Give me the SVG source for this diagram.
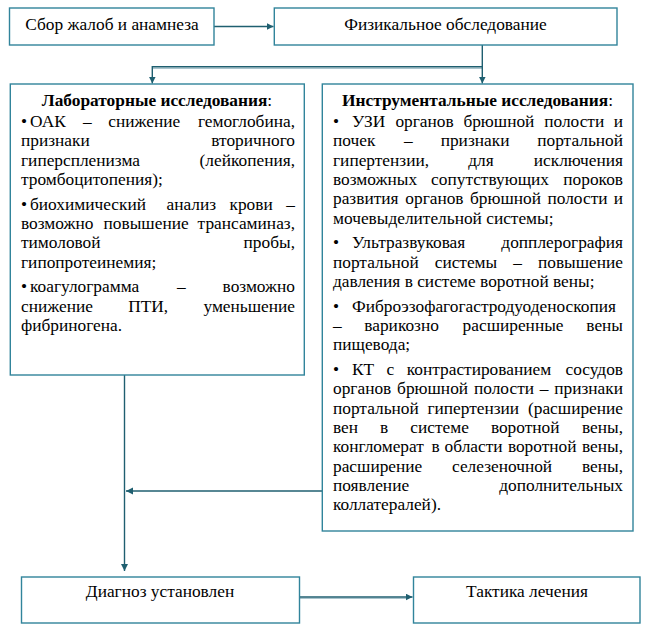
<svg xmlns="http://www.w3.org/2000/svg" width="646" height="635" viewBox="0 0 646 635">
<style>
.box{fill:#fff;stroke:#31849B;stroke-width:1.4}
text{font-family:"Liberation Serif","Times New Roman",serif;font-size:17.33px;fill:#000}
.c{text-anchor:middle}
.b{font-weight:bold}
.e{text-anchor:end}
.con{fill:none;stroke:#1F5F70;stroke-width:1.4}
.lt{fill:none;stroke:#A9C4CD;stroke-width:1.2}
</style>
<defs>
<marker id="ah" markerWidth="8" markerHeight="8" refX="7" refY="3.5" orient="auto" markerUnits="userSpaceOnUse">
<path d="M0,0 L7,3.5 L0,7 z" fill="#1F5F70"/>
</marker>
</defs>
<rect width="646" height="635" fill="#fff"/>
<g id="connectors">
<line class="con" x1="214" y1="26.5" x2="273.5" y2="26.5" marker-end="url(#ah)"/>
<line class="lt" x1="153" y1="68.3" x2="482" y2="68.3"/>
<path class="con" d="M482.3,45 V66.7 H152.3 V83.5" marker-end="url(#ah)"/>
<line class="con" x1="482.3" y1="66.7" x2="482.3" y2="83.5" marker-end="url(#ah)"/>
<line class="con" x1="322" y1="491" x2="126" y2="491" marker-end="url(#ah)"/>
<line class="con" x1="124.5" y1="375" x2="124.5" y2="571" marker-end="url(#ah)"/>
<line class="lt" x1="300" y1="598.3" x2="408" y2="598.3"/>
<line class="con" x1="299" y1="597" x2="412.5" y2="597" marker-end="url(#ah)"/>
</g>
<g id="n1">
<rect class="box" x="9.5" y="8" width="204.5" height="37"/>
<text class="c" x="112" y="30">Сбор жалоб и анамнеза</text>
</g>
<g id="n2">
<rect class="box" x="274.3" y="8" width="342.7" height="37"/>
<text class="c" x="445.5" y="30">Физикальное обследование</text>
</g>
<g id="n3">
<rect class="box" x="10.3" y="84" width="294" height="291"/>
<text class="c" x="157" y="106"><tspan class="b">Лабораторные исследования</tspan>:</text>
<text y="127"><tspan x="21">•</tspan><tspan x="30">ОАК</tspan><tspan x="83.1">–</tspan><tspan x="108.3">снижение</tspan><tspan x="295" class="e">гемоглобина,</tspan></text>
<text y="146.3"><tspan x="21">признаки</tspan><tspan x="295" class="e">вторичного</tspan></text>
<text y="165.6"><tspan x="21">гиперспленизма</tspan><tspan x="295" class="e">(лейкопения,</tspan></text>
<text y="184.9" x="21">тромбоцитопения);</text>
<text y="209.7"><tspan x="21">•</tspan><tspan x="30">биохимический</tspan><tspan x="166.5">анализ</tspan><tspan x="229.5">крови</tspan><tspan x="295" class="e">–</tspan></text>
<text y="229"><tspan x="21">возможно</tspan><tspan x="103.6">повышение</tspan><tspan x="295" class="e">трансаминаз,</tspan></text>
<text y="248.3"><tspan x="21">тимоловой</tspan><tspan x="295" class="e">пробы,</tspan></text>
<text y="267.6" x="21">гипопротеинемия;</text>
<text y="292.4"><tspan x="21">•</tspan><tspan x="30">коагулограмма</tspan><tspan x="177">–</tspan><tspan x="295" class="e">возможно</tspan></text>
<text y="311.7"><tspan x="21">снижение</tspan><tspan x="128.2">ПТИ,</tspan><tspan x="295" class="e">уменьшение</tspan></text>
<text y="331" x="21">фибриногена.</text>
</g>
<g id="n4">
<rect class="box" x="322.3" y="84" width="310.7" height="447"/>
<text class="c" x="477.5" y="106"><tspan class="b">Инструментальные исследования</tspan>:</text>
<text y="127"><tspan x="333">•</tspan><tspan x="352">УЗИ</tspan><tspan x="395.4">органов</tspan><tspan x="463.4">брюшной</tspan><tspan x="544.2">полости</tspan><tspan x="623" class="e">и</tspan></text>
<text y="146.3"><tspan x="333">почек</tspan><tspan x="403.9">–</tspan><tspan x="440.7">признаки</tspan><tspan x="623" class="e">портальной</tspan></text>
<text y="165.6"><tspan x="333">гипертензии,</tspan><tspan x="468.2">для</tspan><tspan x="623" class="e">исключения</tspan></text>
<text y="184.9"><tspan x="333">возможных</tspan><tspan x="431.1">сопутствующих</tspan><tspan x="623" class="e">пороков</tspan></text>
<text y="204.2"><tspan x="333">развития</tspan><tspan x="405.3">органов</tspan><tspan x="470">брюшной</tspan><tspan x="547.5">полости</tspan><tspan x="623" class="e">и</tspan></text>
<text y="223.5" x="333">мочевыделительной системы;</text>
<text y="248.3"><tspan x="333">•</tspan><tspan x="352">Ультразвуковая</tspan><tspan x="623" class="e">допплерография</tspan></text>
<text y="267.6"><tspan x="333">портальной</tspan><tspan x="434.7">системы</tspan><tspan x="513.3">–</tspan><tspan x="623" class="e">повышение</tspan></text>
<text y="286.9" x="333">давления в системе воротной вены;</text>
<text y="311.7"><tspan x="333">•</tspan><tspan x="352">Фиброэзофагогастродуоденоскопия</tspan></text>
<text y="331"><tspan x="333">–</tspan><tspan x="364.3">варикозно</tspan><tspan x="462.6">расширенные</tspan><tspan x="623" class="e">вены</tspan></text>
<text y="350.3" x="333">пищевода;</text>
<text y="375.1"><tspan x="333">•</tspan><tspan x="352">КТ</tspan><tspan x="386.6">с</tspan><tspan x="406.8">контрастированием</tspan><tspan x="623" class="e">сосудов</tspan></text>
<text y="394.4"><tspan x="333">органов</tspan><tspan x="397.1">брюшной</tspan><tspan x="474">полости</tspan><tspan x="539.7">–</tspan><tspan x="623" class="e">признаки</tspan></text>
<text y="413.7"><tspan x="333">портальной</tspan><tspan x="427.4">гипертензии</tspan><tspan x="623" class="e">(расширение</tspan></text>
<text y="433"><tspan x="333">вен</tspan><tspan x="380.1">в</tspan><tspan x="410.3">системе</tspan><tspan x="490.9">воротной</tspan><tspan x="623" class="e">вены,</tspan></text>
<text y="452.3"><tspan x="333">конгломерат</tspan><tspan x="431.4">в</tspan><tspan x="444.6">области</tspan><tspan x="507.9">воротной</tspan><tspan x="623" class="e">вены,</tspan></text>
<text y="471.6"><tspan x="333">расширение</tspan><tspan x="452">селезеночной</tspan><tspan x="623" class="e">вены,</tspan></text>
<text y="490.9"><tspan x="333">появление</tspan><tspan x="623" class="e">дополнительных</tspan></text>
<text y="510.2" x="333">коллатералей).</text>
</g>
<g id="n5">
<rect class="box" x="21.5" y="577" width="278" height="46"/>
<text class="c" x="160" y="597">Диагноз установлен</text>
</g>
<g id="n6">
<rect class="box" x="413.5" y="577" width="226.5" height="46"/>
<text class="c" x="527" y="597">Тактика лечения</text>
</g>
</svg>
